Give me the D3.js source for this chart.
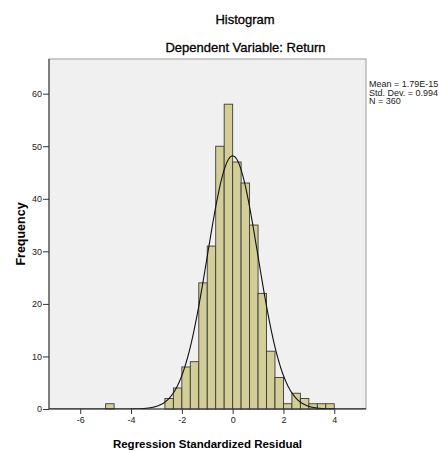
<!DOCTYPE html>
<html>
<head>
<meta charset="utf-8">
<script src="https://cdn.jsdelivr.net/npm/d3@7"></script>
<style>
  body { margin: 0; background: #fff; }
  svg text { font-family: "Liberation Sans", Arial, sans-serif; }
  .tick text { font-family: "Liberation Sans Narrow", "Arial Narrow", "Liberation Sans", sans-serif; font-size: 9px; fill: #222; }
</style>
</head>
<body>
<div id="chart"></div>
<script>
// Histogram bins (lower edge of each bin, width 1/3) and counts
const binLower = [-5, -2.667, -2.333, -2, -1.667, -1.333, -1, -0.667, -0.333, 0,
                  0.333, 0.667, 1, 1.333, 1.667, 2, 2.333, 2.667, 3, 3.333, 3.667];
const binCounts = [1, 2, 4, 8, 9, 24, 31, 50, 58, 47,
                   43, 35, 22, 11, 6, 1, 3, 2, 1, 1, 1];
const binWidth = 1 / 3;

const xTicks = [-6, -4, -2, 0, 2, 4];
const yTicks = [0, 10, 20, 30, 40, 50, 60];

// fitted normal stats
const meanVal = 1.79e-15;
const sdVal = 0.994;
const nVal = 360;
const statsLines = ["Mean = 1.79E-15", "Std. Dev. = 0.994", "N = 360"];

const W = 439, H = 453;
const plot = { left: 49, right: 366, top: 59, bottom: 409 };

const svg = d3.select("#chart").append("svg")
    .attr("width", W)
    .attr("height", H);

const x = d3.scaleLinear().domain([-7.23, 5.25]).range([plot.left, plot.right]);
const y = d3.scaleLinear().domain([0, 66.6]).range([plot.bottom, plot.top]);

// plot background + frame
svg.append("rect")
    .attr("x", plot.left)
    .attr("y", plot.top)
    .attr("width", plot.right - plot.left)
    .attr("height", plot.bottom - plot.top)
    .attr("fill", "#f0f0f0")
    .attr("stroke", "#9a9a9a")
    .attr("stroke-width", 1);

svg.append("clipPath").attr("id", "clip")
    .append("rect")
    .attr("x", plot.left)
    .attr("y", plot.top)
    .attr("width", plot.right - plot.left)
    .attr("height", plot.bottom - plot.top);

// bars
svg.append("g").selectAll("rect")
    .data(binLower.map((lo, i) => ({ lo, count: binCounts[i] })))
    .enter()
    .append("rect")
    .attr("x", d => x(d.lo))
    .attr("y", d => y(d.count))
    .attr("width", d => x(d.lo + binWidth) - x(d.lo))
    .attr("height", d => y(0) - y(d.count))
    .attr("fill", "#d3ce97")
    .attr("stroke", "#3a3a3a")
    .attr("stroke-width", 0.9);

// normal curve scaled to counts
const curvePts = d3.range(-7.23, 5.26, 0.02).map(v => ({
    v,
    f: nVal * binWidth * Math.exp(-0.5 * ((v - meanVal) / sdVal) ** 2) / (sdVal * Math.sqrt(2 * Math.PI))
}));

svg.append("path")
    .datum(curvePts)
    .attr("clip-path", "url(#clip)")
    .attr("fill", "none")
    .attr("stroke", "#111")
    .attr("stroke-width", 1.1)
    .attr("d", d3.line().x(d => x(d.v)).y(d => y(d.f)).curve(d3.curveBasis));

// axes (plain hyphen for negatives, like the original)
const fmt = d => String(d);

const xAxis = svg.append("g")
    .attr("transform", `translate(0,${plot.bottom})`)
    .call(d3.axisBottom(x).tickValues(xTicks).tickFormat(fmt).tickSize(5).tickPadding(3).tickSizeOuter(0));
xAxis.select(".domain").attr("stroke", "#333").attr("d", `M${plot.left},0H${plot.right}`);
xAxis.selectAll(".tick line").attr("stroke", "#333");

const yAxis = svg.append("g")
    .attr("transform", `translate(${plot.left},0)`)
    .call(d3.axisLeft(y).tickValues(yTicks).tickFormat(fmt).tickSize(6).tickPadding(1).tickSizeOuter(0));
yAxis.select(".domain").attr("stroke", "#333").attr("d", `M0,${plot.top}V${plot.bottom}`);
yAxis.selectAll(".tick line").attr("stroke", "#333");

// titles
svg.append("text")
    .attr("x", 245)
    .attr("y", 24)
    .attr("text-anchor", "middle")
    .style("font-size", "13px")
    .attr("stroke", "#000")
    .attr("stroke-width", 0.3)
    .text("Histogram");

svg.append("text")
    .attr("x", 245.5)
    .attr("y", 52)
    .attr("text-anchor", "middle")
    .style("font-size", "13px")
    .attr("stroke", "#000")
    .attr("stroke-width", 0.3)
    .text("Dependent Variable: Return");

svg.append("text")
    .attr("x", (plot.left + plot.right) / 2)
    .attr("y", 448)
    .attr("text-anchor", "middle")
    .style("font-size", "11.5px")
    .style("font-weight", "bold")
    .text("Regression Standardized Residual");

svg.append("text")
    .attr("transform", `translate(25,${(plot.top + plot.bottom) / 2}) rotate(-90)`)
    .attr("text-anchor", "middle")
    .style("font-size", "12.5px")
    .style("font-weight", "bold")
    .text("Frequency");

// stats box text
svg.append("g").selectAll("text")
    .data(statsLines)
    .enter()
    .append("text")
    .attr("x", 369)
    .attr("y", (d, i) => 87 + i * 8.7)
    .style("font-size", "9px")
    .attr("fill", "#222")
    .text(d => d);
</script>
</body>
</html>
